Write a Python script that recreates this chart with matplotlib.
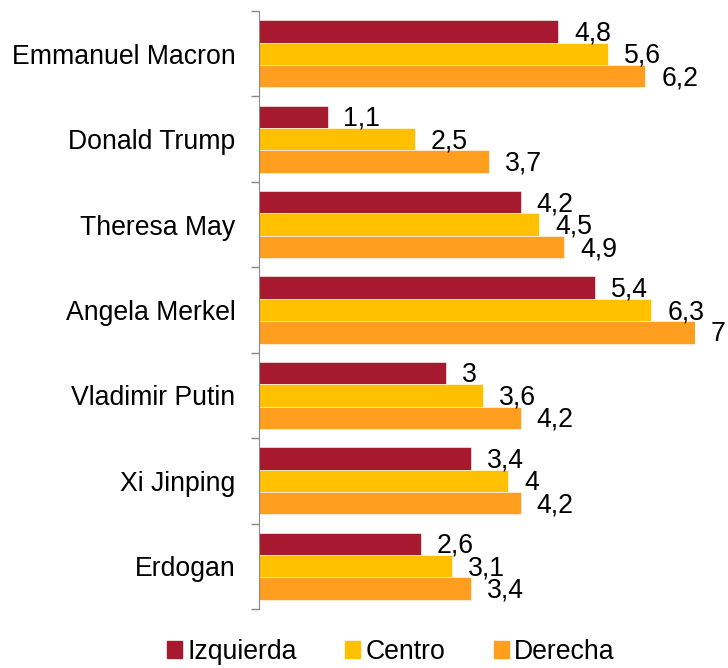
import matplotlib
matplotlib.use('Agg')
import matplotlib.pyplot as plt
from matplotlib.patches import Patch

plt.rcParams['font.family'] = ['Liberation Sans', 'DejaVu Sans']

lideres = ['Emmanuel Macron', 'Donald Trump', 'Theresa May', 'Angela Merkel',
           'Vladimir Putin', 'Xi Jinping', 'Erdogan']
izquierda = [4.8, 1.1, 4.2, 5.4, 3, 3.4, 2.6]
centro = [5.6, 2.5, 4.5, 6.3, 3.6, 4, 3.1]
derecha = [6.2, 3.7, 4.9, 7, 4.2, 4.2, 3.4]

series = [('Izquierda', izquierda, '#a6192e'),
          ('Centro', centro, '#ffc000'),
          ('Derecha', derecha, '#ff9e1f')]


def _fmt(v):
    if v == int(v):
        return '%d' % v
    return ('%.1f' % v).replace('.', ',')


fig = plt.figure(figsize=(7.28, 6.68), dpi=100)
ax = fig.add_axes([259 / 728, 1 - 609 / 668, (695 - 259) / 728, (609 - 11) / 668])

h = 0.262
for k, (name, vals, col) in enumerate(series):
    ys = [i + 0.5 + (k - 1) * h for i in range(len(lideres))]
    ax.barh(ys, vals, height=h, color=col, edgecolor='white', linewidth=0.4)
    for y, v in zip(ys, vals):
        ax.annotate(_fmt(v), xy=(v, y), xytext=(11.5, -1.5), textcoords='offset points',
                    ha='left', va='center', fontsize=19.2, annotation_clip=False)

ax.set_xlim(0, 7)
ax.set_ylim(len(lideres), 0)
ax.set_xticks([])
ax.set_yticks(range(len(lideres) + 1))
ax.set_yticklabels([])
ax.set_yticks([i + 0.5 for i in range(len(lideres))], minor=True)
ax.set_yticklabels(lideres, minor=True, fontsize=19.2)
ax.tick_params(axis='y', which='major', length=6, width=1, color='#898989')
ax.tick_params(axis='y', which='minor', length=0, pad=17)
for s in ['top', 'right', 'bottom']:
    ax.spines[s].set_visible(False)
ax.spines['left'].set_color('#898989')

handles = [Patch(color=c, label=n) for n, _, c in series]
fig.legend(handles=handles, loc='center', bbox_to_anchor=(0.537, 1 - 652 / 668),
           ncol=3, frameon=False, fontsize=19.2, handlelength=0.57, handleheight=0.57,
           handletextpad=0.2, columnspacing=1.8)

fig.savefig('out.png', dpi=100)
